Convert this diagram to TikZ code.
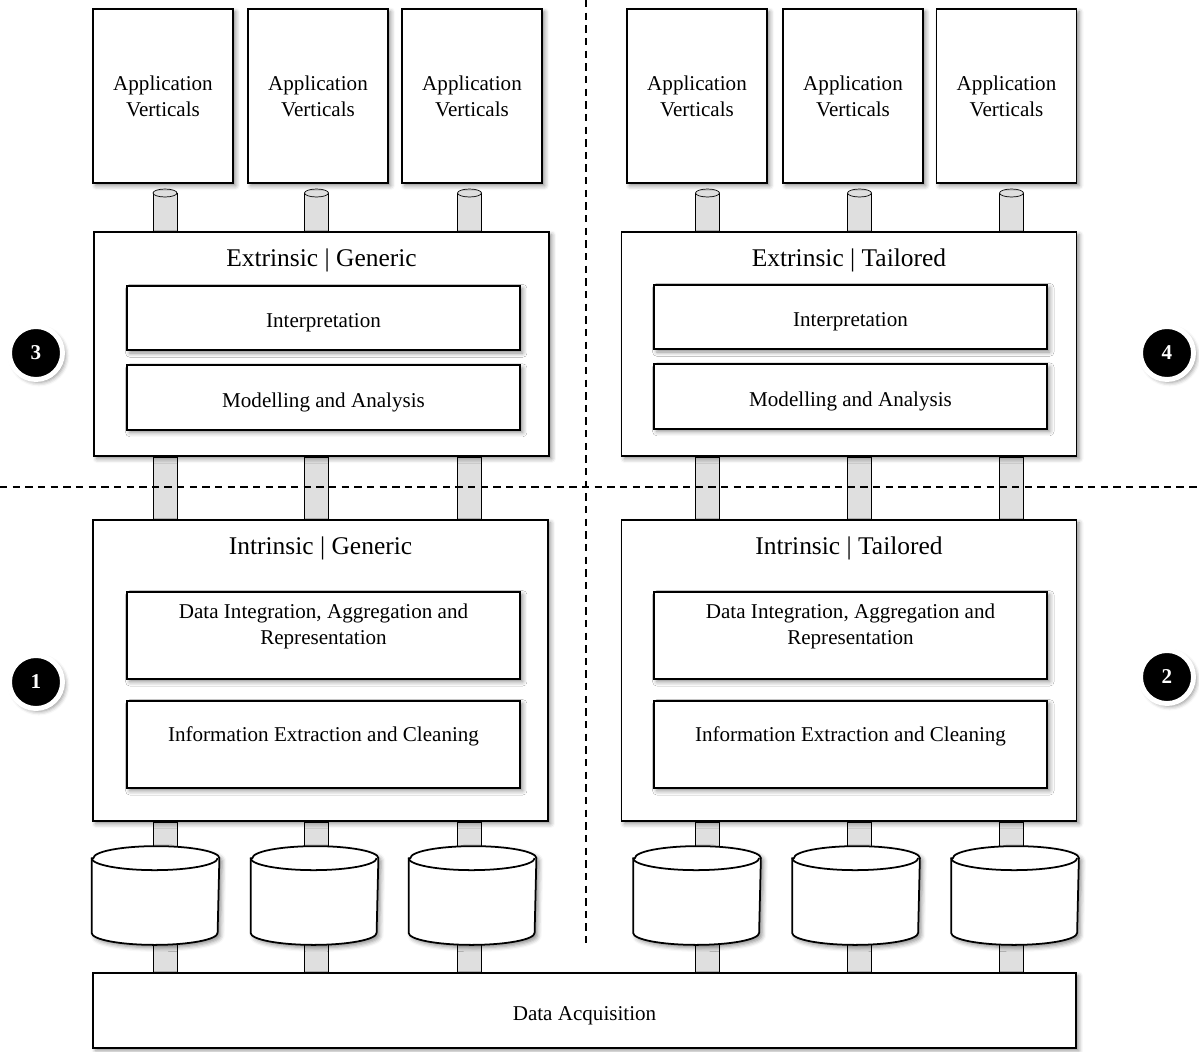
\documentclass[tikz,border=0pt]{standalone}
\usepackage{fontspec}
\setmainfont{Liberation Serif}
\usetikzlibrary{shapes.geometric, positioning, calc, backgrounds, shadows.blur}

\begin{document}
\begin{tikzpicture}[
    x=0.02cm, y=-0.02cm,
    line width=1pt,
    softshadow/.style={blur shadow={shadow xshift=1.6pt, shadow yshift=-1.6pt, shadow blur radius=2.4pt, shadow opacity=45}},
    appbox/.style={rectangle, draw, fill=white, minimum width=2.8cm, minimum height=3.48cm, align=center, font=\fontsize{12}{14.8}\selectfont, softshadow},
    layer/.style={rectangle, draw, fill=white, minimum width=9.1cm, minimum height=#1, softshadow},
    layer/.default=4.48cm,
    subbox/.style={rectangle, draw, fill=white, minimum width=7.86cm, minimum height=#1, align=center, font=\fontsize{12}{14.4}\selectfont, softshadow},
    subbox/.default=1.29cm,
    lowtext/.style={text height=0.48cm, text depth=0.09cm},
    subtext/.style={align=center, font=\fontsize{12}{14.4}\selectfont},
    titletext/.style={font=\fontsize{14.5}{17}\selectfont},
    store/.style={rectangle, minimum width=2.52cm, minimum height=1.94cm, inner sep=0pt},
    drum/.style={draw, fill=white, softshadow},
    pipe/.style={draw, fill=gray!25},
    num/.style={circle, fill=black, draw=white, line width=2.8pt, text=white, font=\fontsize{12}{14}\selectfont\bfseries, minimum size=1.06cm, inner sep=0pt, softshadow},
    divider/.style={dash pattern=on 4.2pt off 3pt, line width=1.1pt}
]
\useasboundingbox (0,0) rectangle (1199,1051);

% Application verticals
\node[appbox] (app1) at (163,96) {Application\\Verticals};
\node[appbox] (app2) at (318,96) {Application\\Verticals};
\node[appbox] (app3) at (472,96) {Application\\Verticals};
\node[appbox] (app4) at (697,96) {Application\\Verticals};
\node[appbox] (app5) at (853,96) {Application\\Verticals};
\node[appbox] (app6) at (1006.5,96) {Application\\Verticals};

% Extrinsic layers
\node[layer] (eg) at (321.5,344) {};
\node[titletext] (egt) at ([yshift=-0.59cm]eg.north) {Extrinsic | Generic};
\node[subbox, lowtext] (int1) at (323.5,318) {Interpretation};
\node[subbox, lowtext] (mod1) at (323.5,397.5) {Modelling and Analysis};

\node[layer] (et) at (849,344) {};
\node[titletext] (ett) at ([yshift=-0.59cm]et.north) {Extrinsic | Tailored};
\node[subbox, lowtext] (int2) at (850.5,317) {Interpretation};
\node[subbox, lowtext] (mod2) at (850.5,396.5) {Modelling and Analysis};

% Intrinsic layers
\node[layer=6.02cm] (ig) at (320.5,670.5) {};
\node[titletext] (igt) at ([yshift=-0.58cm]ig.north) {Intrinsic | Generic};
\node[subbox=1.74cm] (dia1) at (323.5,635.5) {};
\node[subtext] (diat1) at ([yshift=0.18cm]dia1.center) {Data Integration, Aggregation and\\Representation};
\node[subbox=1.74cm] (iec1) at (323.5,744.5) {};
\node[subtext] (iect1) at ([yshift=0.17cm]iec1.center) {Information Extraction and Cleaning};

\node[layer=6.02cm] (it) at (849,670.5) {};
\node[titletext] (itt) at ([yshift=-0.58cm]it.north) {Intrinsic | Tailored};
\node[subbox=1.74cm] (dia2) at (850.5,635.5) {};
\node[subtext] (diat2) at ([yshift=0.18cm]dia2.center) {Data Integration, Aggregation and\\Representation};
\node[subbox=1.74cm] (iec2) at (850.5,744.5) {};
\node[subtext] (iect2) at ([yshift=0.17cm]iec2.center) {Information Extraction and Cleaning};

% Data stores
\node[store] (db1) at (155.5,895.5) {};
\node[store] (db2) at (314.5,895.5) {};
\node[store] (db3) at (472.5,895.5) {};
\node[store] (db4) at (697,895.5) {};
\node[store] (db5) at (856,895.5) {};
\node[store] (db6) at (1015,895.5) {};
\foreach \d in {db1,db2,db3,db4,db5,db6} {
    \draw[drum] ([yshift=-0.24cm]\d.north west) -- ([yshift=0.24cm]\d.south west)
        arc[start angle=180, end angle=360, x radius=1.26cm, y radius=0.24cm]
        -- ([yshift=-0.24cm]\d.north east)
        arc[start angle=0, end angle=180, x radius=1.26cm, y radius=0.24cm] -- cycle;
    \draw ([yshift=-0.24cm]\d.north west) arc[start angle=180, end angle=360, x radius=1.26cm, y radius=0.24cm];
}

% Data acquisition
\node[rectangle, draw, fill=white, minimum width=19.66cm, minimum height=1.5cm, font=\fontsize{12}{14}\selectfont, lowtext, softshadow] (da) at (584.5,1010.5) {Data Acquisition};

% Numbered quadrants
\node[num] (n3) at (36,353) {3};
\node[num] (n4) at (1167,353) {4};
\node[num] (n1) at (36,682) {1};
\node[num] (n2) at (1167,677) {2};

% Pipes
\coordinate (p1) at (165,193);
\coordinate (p2) at (316.5,193);
\coordinate (p3) at (469.5,193);
\coordinate (p4) at (707.5,193);
\coordinate (p5) at (859.5,193);
\coordinate (p6) at (1011.5,193);
\begin{scope}[on background layer]
\foreach \i/\ext/\intr in {1/eg/ig, 2/eg/ig, 3/eg/ig, 4/et/it, 5/et/it, 6/et/it} {
    \draw[pipe] ($(p\i)+(-12,0)$) rectangle ($(p\i |- \ext.north)+(12,0)$);
    \draw[pipe] ($(p\i |- \ext.south)+(-12,0)$) rectangle ($(p\i |- \intr.north)+(12,0)$);
    \draw[pipe] ($(p\i |- \intr.south)+(-12,0)$) rectangle ($(p\i |- db\i.center)+(12,0)$);
    \draw[pipe] ($(p\i |- db\i.center)+(-12,0)$) rectangle ($(p\i |- da.north)+(12,0)$);
    \draw[pipe] (p\i) ellipse (0.24cm and 0.08cm);
}
\end{scope}

% Quadrant dividers
\draw[divider] (0,487) -- (1199,487);
\draw[divider] (586,0) -- (586,945);
\end{tikzpicture}
\end{document}
